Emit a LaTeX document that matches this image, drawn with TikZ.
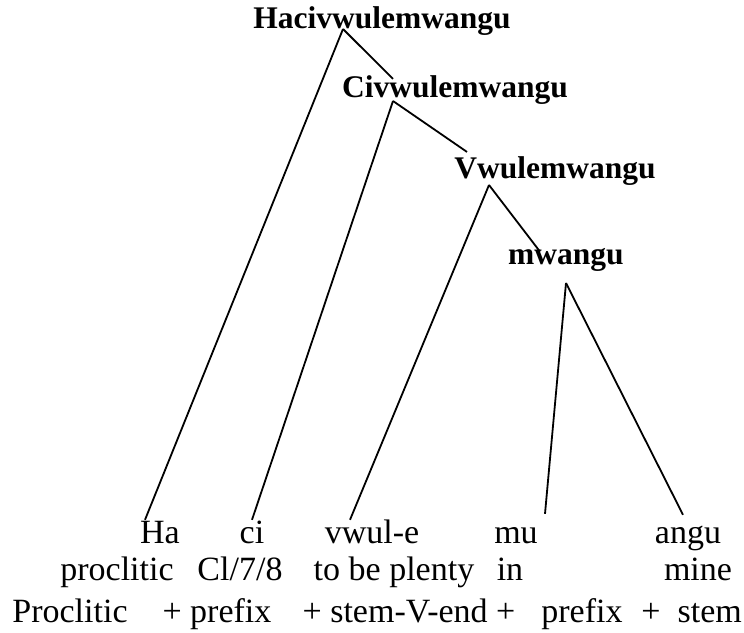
\documentclass[tikz,border=0pt]{standalone}
\usepackage{fontspec}
\setmainfont{Liberation Serif}
\usetikzlibrary{positioning}

\begin{document}
\begin{tikzpicture}[
        x=1pt, y=-1pt,
        word/.style={anchor=base, inner sep=0pt, font=\fontsize{31.5}{36}\selectfont\bfseries},
        gloss/.style={anchor=base, inner sep=0pt, text height=0.7em, text depth=0.22em, font=\fontsize{34}{40}\selectfont},
        branch/.style={line width=1.8pt}
    ]
    \useasboundingbox (0,0) rectangle (744,632);

    % Word levels (bold)
    \node[word] (hac) at (382,28) {Hacivwulemwangu};
    \node[word] (civ) at (455,97) {Civwulemwangu};
    \node[word] (vwu) at (555,178) {Vwulemwangu};
    \node[word] (mwa) at (566,264) {mwangu};

    % Split points under each word
    \coordinate (hac-j) at (343,29);
    \coordinate (civ-j) at (393,101);
    \coordinate (vwu-j) at (489,185);
    \coordinate (mwa-j) at (566,283);

    % Morphemes
    \node[gloss] (ha) at (160,543) {Ha};
    \node[gloss] (ci) at (252,543) {ci};
    \node[gloss] (vwul) at (372,543) {vwul-e};
    \node[gloss] (mu) at (516,543) {mu};
    \node[gloss] (angu) at (688,543) {angu};

    % Glosses
    \node[gloss] (ha-gl) at (117,580) {proclitic};
    \node[gloss] (ci-gl) at (240,580) {Cl/7/8};
    \node[gloss] (vwul-gl) at (394,580) {to be plenty};
    \node[gloss] (mu-gl) at (510,580) {in};
    \node[gloss] (angu-gl) at (698,580) {mine};

    % Morpheme types
    \node[gloss] (t1) at (70,622) {Proclitic};
    \node[gloss] (t2) at (217,622) {+ prefix};
    \node[gloss] (t3) at (409,622) {+ stem-V-end +};
    \node[gloss] (t4) at (582,622) {prefix};
    \node[gloss, anchor=base east] (t5) at (742,622) {+\ \ stem};

    % Tree branches
    \draw[branch] (hac-j) -- ([xshift=-15pt,yshift=16pt]ha.north);
    \draw[branch] (hac-j) -- ([xshift=-62pt,yshift=-4pt]civ.north);
    \draw[branch] (civ-j) -- ([xshift=0pt,yshift=16pt]ci.north);
    \draw[branch] (civ-j) -- ([xshift=-88pt,yshift=4pt]vwu.north);
    \draw[branch] (vwu-j) -- ([xshift=-22pt,yshift=16pt]vwul.north);
    \draw[branch] (vwu-j) -- ([xshift=-26pt,yshift=-4pt]mwa.north);
    \draw[branch] (mwa-j) -- ([xshift=29pt,yshift=22pt]mu.north);
    \draw[branch] (mwa-j) -- ([xshift=-5pt,yshift=21pt]angu.north);

\end{tikzpicture}
\end{document}
